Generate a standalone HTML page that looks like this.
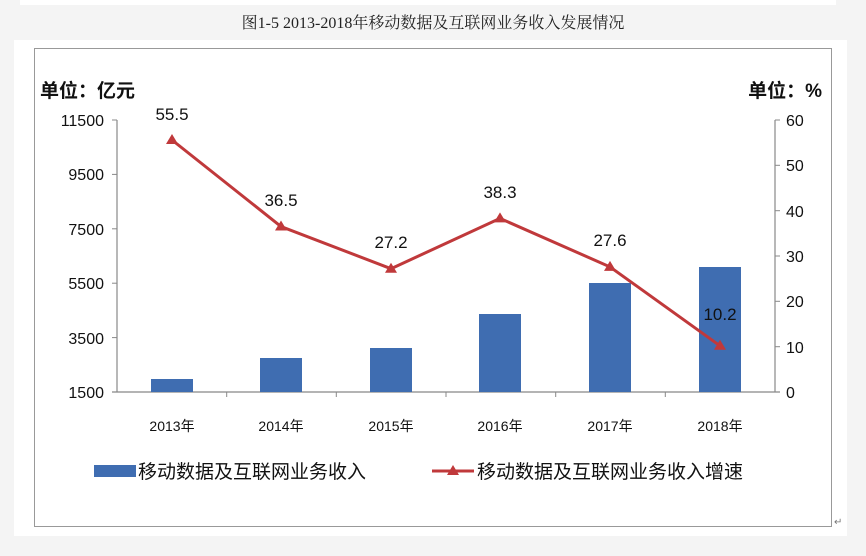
<!DOCTYPE html>
<html><head><meta charset="utf-8"><style>
body{margin:0;background:#f4f4f4;}
text{font-family:"Liberation Sans","Noto Sans CJK SC",sans-serif;}
</style></head><body>
<svg width="866" height="551" xmlns="http://www.w3.org/2000/svg">
<rect x="0" y="0" width="866" height="551" fill="#f4f4f4"/>
<rect x="20" y="0" width="816" height="5" fill="#fff"/>
<text x="433" y="28" text-anchor="middle" font-size="16" fill="#222" style="font-family:'Liberation Serif','Noto Serif CJK SC',serif">图1-5 2013-2018年移动数据及互联网业务收入发展情况</text>
<rect x="14" y="40" width="833" height="135" fill="#fff"/>
<rect x="14" y="40" width="833" height="136" fill="#fff"/>
<rect x="14" y="40" width="833" height="135" fill="#fff"/>
<rect x="14" y="40" width="833" height="136" fill="#fff"/>
<rect x="14" y="40" width="833" height="136" fill="#fff"/>
<rect x="14" y="40" width="833" height="496" fill="#fff"/>
<rect x="34.5" y="48.5" width="797" height="478" fill="#fff" stroke="#999" stroke-width="1"/>
<text x="40" y="97" font-size="19" font-weight="bold" fill="#111">单位：亿元</text>
<text x="822" y="97" font-size="19" font-weight="bold" fill="#111" text-anchor="end">单位：%</text>
<g stroke="#888" stroke-width="1.2" fill="none">
<line x1="117" y1="120" x2="117" y2="392"/>
<line x1="775" y1="120" x2="775" y2="392"/>
<line x1="112" y1="392" x2="780" y2="392"/>
</g>
<g stroke="#888" stroke-width="1">
<line x1="112" y1="120" x2="117" y2="120"/><line x1="112" y1="174.4" x2="117" y2="174.4"/><line x1="112" y1="228.8" x2="117" y2="228.8"/><line x1="112" y1="283.2" x2="117" y2="283.2"/><line x1="112" y1="337.6" x2="117" y2="337.6"/>
<line x1="775" y1="120" x2="780" y2="120"/><line x1="775" y1="165.3" x2="780" y2="165.3"/><line x1="775" y1="210.7" x2="780" y2="210.7"/><line x1="775" y1="256" x2="780" y2="256"/><line x1="775" y1="301.3" x2="780" y2="301.3"/><line x1="775" y1="346.7" x2="780" y2="346.7"/>
<line x1="226.7" y1="392" x2="226.7" y2="397"/><line x1="336.3" y1="392" x2="336.3" y2="397"/><line x1="446" y1="392" x2="446" y2="397"/><line x1="555.7" y1="392" x2="555.7" y2="397"/><line x1="665.3" y1="392" x2="665.3" y2="397"/>
</g>
<g font-size="16" fill="#111" text-anchor="end">
<text x="104" y="126">11500</text><text x="104" y="180">9500</text><text x="104" y="235">7500</text><text x="104" y="289">5500</text><text x="104" y="344">3500</text><text x="104" y="398">1500</text>
</g>
<g font-size="16" fill="#111">
<text x="786" y="126">60</text><text x="786" y="171">50</text><text x="786" y="217">40</text><text x="786" y="262">30</text><text x="786" y="307">20</text><text x="786" y="353">10</text><text x="786" y="398">0</text>
</g>
<g fill="#3f6db1">
<rect x="151" y="379" width="42" height="13"/>
<rect x="260" y="358" width="42" height="34"/>
<rect x="370" y="348" width="42" height="44"/>
<rect x="479" y="314" width="42" height="78"/>
<rect x="589" y="283" width="42" height="109"/>
<rect x="699" y="267" width="42" height="125"/>
</g>
<g font-size="14" fill="#111" text-anchor="middle">
<text x="172" y="431">2013年</text><text x="281" y="431">2014年</text><text x="391" y="431">2015年</text><text x="500" y="431">2016年</text><text x="610" y="431">2017年</text><text x="720" y="431">2018年</text>
</g>
<polyline points="172,140 281,226.5 391,268.7 500,218.4 610,266.9 720,345.8" fill="none" stroke="#c0393b" stroke-width="3"/>
<g fill="#c0393b">
<polygon points="172,134 178,144 166,144"/><polygon points="281,220.5 287,230.5 275,230.5"/><polygon points="391,262.7 397,272.7 385,272.7"/><polygon points="500,212.4 506,222.4 494,222.4"/><polygon points="610,260.9 616,270.9 604,270.9"/><polygon points="720,339.8 726,349.8 714,349.8"/>
</g>
<g font-size="17" fill="#111" text-anchor="middle">
<text x="172" y="120">55.5</text><text x="281" y="206">36.5</text><text x="391" y="248">27.2</text><text x="500" y="198">38.3</text><text x="610" y="246">27.6</text><text x="720" y="320">10.2</text>
</g>
<rect x="94" y="465" width="42" height="12" fill="#3f6db1"/>
<text x="138" y="478" font-size="19" fill="#111">移动数据及互联网业务收入</text>
<line x1="432" y1="471" x2="474" y2="471" stroke="#c0393b" stroke-width="3"/>
<polygon points="453,465 459,475 447,475" fill="#c0393b"/>
<text x="477" y="478" font-size="19" fill="#111">移动数据及互联网业务收入增速</text>
<text x="834" y="525" font-size="10" fill="#777">↵</text>
</svg>
</body></html>
